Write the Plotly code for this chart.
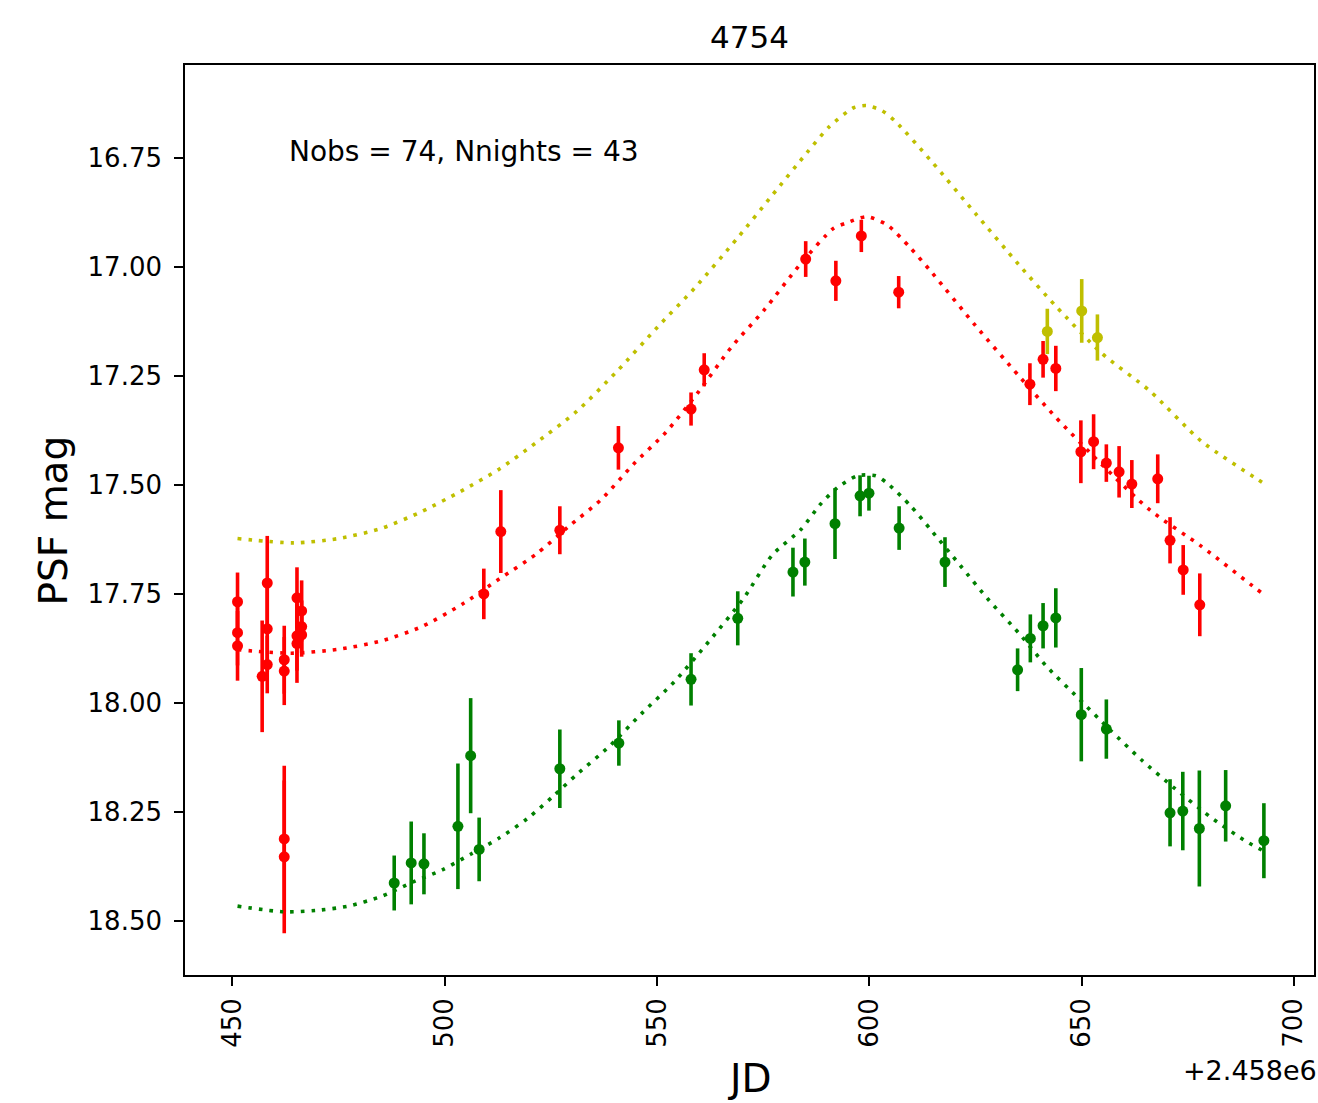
import plotly.graph_objects as go

JD0 = 2458000

# ---- observations (JD - 2458000, PSF mag, error) ----
r_jd = [451.2, 451.2, 451.2, 457.0, 458.2, 458.2, 458.2, 462.2, 462.2, 462.2, 462.2,
        465.2, 465.2, 465.2, 466.3, 466.3, 466.3,
        509.2, 513.2, 527.1, 540.9, 558.0, 561.1, 585.0, 592.1, 598.1, 606.9,
        637.8, 640.9, 643.9, 649.8, 652.8, 655.8, 658.8, 661.8, 667.9, 670.8, 673.9, 677.8]
r_mag = [17.768, 17.839, 17.869, 17.939, 17.725, 17.830, 17.912, 17.901, 17.927, 18.312, 18.353,
         17.759, 17.846, 17.864, 17.789, 17.825, 17.844,
         17.750, 17.607, 17.604, 17.415, 17.326, 17.236, 16.982, 17.032, 16.929, 17.058,
         17.269, 17.212, 17.233, 17.424, 17.401, 17.450, 17.470, 17.498, 17.486, 17.627, 17.695, 17.775]
r_err = [0.067, 0.075, 0.080, 0.128, 0.108, 0.100, 0.066, 0.078, 0.078, 0.168, 0.175,
         0.070, 0.080, 0.090, 0.070, 0.060, 0.050,
         0.058, 0.095, 0.055, 0.050, 0.038, 0.038, 0.041, 0.046, 0.037, 0.037,
         0.048, 0.042, 0.052, 0.072, 0.063, 0.043, 0.059, 0.055, 0.056, 0.053, 0.057, 0.072]

g_jd = [488.1, 492.1, 495.1, 503.1, 506.1, 508.1, 527.1, 541.0,
        558.0, 569.0, 582.0, 584.8, 591.9, 597.8, 599.9, 607.0, 617.8,
        634.9, 637.9, 640.9, 643.9, 649.9, 655.8, 670.8, 673.8, 677.7, 683.9, 692.9]
g_mag = [18.413, 18.367, 18.369, 18.283, 18.121, 18.336, 18.151, 18.092,
         17.946, 17.806, 17.700, 17.677, 17.589, 17.525, 17.519, 17.599, 17.677,
         17.924, 17.852, 17.823, 17.805, 18.027, 18.060, 18.252, 18.248, 18.288, 18.236, 18.316]
g_err = [0.063, 0.095, 0.070, 0.144, 0.132, 0.073, 0.090, 0.052,
         0.060, 0.062, 0.056, 0.054, 0.081, 0.047, 0.040, 0.050, 0.057,
         0.049, 0.055, 0.052, 0.068, 0.107, 0.068, 0.077, 0.090, 0.133, 0.082, 0.086]

y_jd = [641.9, 650.0, 653.7]
y_mag = [17.148, 17.101, 17.162]
y_err = [0.052, 0.073, 0.053]

# ---- model curves ----
ym_jd = [451.2, 464.4, 475.0, 485.0, 494.6, 503.7, 512.8, 521.4, 531.0, 540.6, 550.2, 558.9,
         569.0, 577.1, 585.3, 590.5, 596.3, 599.3, 603.0, 606.2, 614.8, 625.0, 635.2, 643.8, 654.7,
         666.1, 678.2, 691.2, 693.1]
ym_mag = [17.623, 17.633, 17.623, 17.600, 17.561, 17.515, 17.464, 17.404, 17.332, 17.239, 17.137, 17.048,
          16.933, 16.836, 16.738, 16.679, 16.635, 16.630, 16.642, 16.667, 16.760, 16.878, 16.995, 17.089, 17.198,
          17.285, 17.400, 17.486, 17.498]

rm_jd = [451.2, 463.9, 475.0, 485.0, 494.6, 504.2, 512.8, 521.5, 529.1, 536.8, 544.5, 552.1,
         559.8, 567.5, 575.2, 583.8, 591.5, 594.4, 599.4, 604.2, 609.7, 614.8, 625.0, 635.2,
         643.8, 654.7, 666.1, 678.2, 691.2, 693.1]
rm_mag = [17.878, 17.886, 17.877, 17.858, 17.825, 17.773, 17.716, 17.659, 17.596, 17.534, 17.452, 17.379,
          17.286, 17.184, 17.099, 16.993, 16.912, 16.900, 16.885, 16.904, 16.957, 17.014, 17.135, 17.250,
          17.344, 17.453, 17.558, 17.641, 17.739, 17.753]

gm_jd = [451.2, 462.0, 469.7, 477.3, 485.0, 492.7, 499.4, 506.1, 512.8, 519.5, 525.3, 531.0,
         538.7, 546.4, 554.1, 562.2, 570.4, 577.1, 583.8, 588.6, 592.5, 597.2, 601.5, 604.2,
         609.7, 614.8, 621.5, 628.1, 635.2, 641.8, 649.2, 656.7, 664.1, 671.9, 680.2, 688.8, 693.1]
gm_mag = [18.466, 18.479, 18.476, 18.466, 18.444, 18.410, 18.383, 18.347, 18.310, 18.265, 18.216, 18.165,
          18.100, 18.024, 17.951, 17.859, 17.760, 17.661, 17.603, 17.543, 17.506, 17.479, 17.479, 17.496,
          17.548, 17.607, 17.686, 17.764, 17.840, 17.917, 17.989, 18.062, 18.131, 18.196, 18.261, 18.318, 18.341]

x_ticks = [450, 500, 550, 600, 650, 700]
y_ticks = [16.75, 17.00, 17.25, 17.50, 17.75, 18.00, 18.25, 18.50]

RED = "#ff0000"
GREEN = "#008000"
YEL = "#bfbf00"
FONT = "DejaVu Sans"

fig = go.Figure()


def obs(xs, ys, es, col):
    fig.add_trace(go.Scatter(
        x=xs, y=ys, mode="markers",
        marker=dict(color=col, size=11, line=dict(width=0)),
        error_y=dict(type="data", array=es, visible=True, color=col, thickness=3.6, width=0),
        showlegend=False, hoverinfo="x+y"))


def model(xs, ys, col):
    fig.add_trace(go.Scatter(
        x=xs, y=ys, mode="lines",
        line=dict(color=col, width=3.6, dash="3.6px,7px", shape="spline", smoothing=0.7),
        showlegend=False, hoverinfo="skip"))


obs(r_jd, r_mag, r_err, RED)
obs(g_jd, g_mag, g_err, GREEN)
obs(y_jd, y_mag, y_err, YEL)
model(ym_jd, ym_mag, YEL)
model(rm_jd, rm_mag, RED)
model(gm_jd, gm_mag, GREEN)

axis_common = dict(
    showline=True, linecolor="black", linewidth=1.6, mirror=True,
    ticks="outside", ticklen=9, tickwidth=1.6, tickcolor="black",
    showgrid=False, zeroline=False,
    tickfont=dict(family=FONT, size=26, color="black"),
)

fig.update_layout(
    width=1318, height=1103,
    margin=dict(l=185, r=2, t=65, b=128),
    paper_bgcolor="white", plot_bgcolor="white",
    font=dict(family=FONT, color="black"),
    xaxis=dict(range=[438.83, 704.7], tickvals=x_ticks, ticktext=[str(v) for v in x_ticks],
               tickangle=-90, ticklabelstandoff=2, **axis_common),
    yaxis=dict(range=[18.624, 16.537], tickvals=y_ticks, ticktext=[f"{v:.2f}" for v in y_ticks],
               ticklabelstandoff=7, **axis_common),
    annotations=[
        dict(text="4754", xref="paper", yref="paper", x=0.5, y=1.0308, xanchor="center",
             yanchor="middle", showarrow=False, font=dict(family=FONT, size=31)),
        dict(text="Nobs = 74, Nnights = 43", xref="paper", yref="paper", x=0.0905, y=0.9044,
             xanchor="left", yanchor="middle", showarrow=False, font=dict(family=FONT, size=28)),
        dict(text="PSF mag", xref="paper", yref="paper", x=-0.1165, y=0.5, xanchor="center",
             yanchor="middle", textangle=-90, showarrow=False, font=dict(family=FONT, size=39)),
        dict(text="JD", xref="paper", yref="paper", x=0.5, y=-0.1132, xanchor="center",
             yanchor="middle", showarrow=False, font=dict(family=FONT, size=39)),
        dict(text="+2.458e6", xref="paper", yref="paper", x=1.004, y=-0.1044, xanchor="right",
             yanchor="middle", showarrow=False, font=dict(family=FONT, size=27)),
    ],
)

fig.write_html("out.html")
